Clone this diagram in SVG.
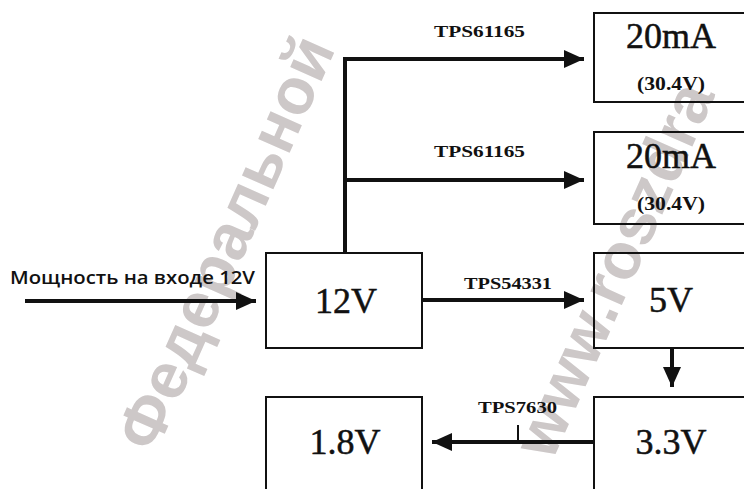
<svg xmlns="http://www.w3.org/2000/svg" width="744" height="489" viewBox="0 0 744 489">
<style>
.box{fill:none;stroke:#111;stroke-width:2}
.big{font-family:"Liberation Serif","Times New Roman",serif;font-size:36px;fill:#111;stroke:#111;stroke-width:0.5;text-anchor:middle}
.sub{font-family:"Liberation Serif","Times New Roman",serif;font-size:18px;font-weight:bold;fill:#111;text-anchor:middle}
.lbl{font-family:"Liberation Serif","Times New Roman",serif;font-size:17px;font-weight:bold;fill:#111}
.in{font-family:"Open Sans","Liberation Sans",sans-serif;font-size:18px;font-weight:600;fill:#111}
.wm{font-family:"Liberation Sans",Arial,sans-serif;font-size:65px;font-weight:bold;fill:#cdc8c8}
.c{stroke:#111;stroke-width:4;fill:none}
</style>
<defs>
<marker id="ah" markerUnits="userSpaceOnUse" markerWidth="20" markerHeight="18" refX="20" refY="9" orient="auto">
<path d="M0,0 L20,9 L0,18 z" fill="#111"/>
</marker>
</defs>
<rect width="744" height="489" fill="#fff"/>
<g id="watermark">
<text class="wm" transform="translate(155,455) rotate(-66)">Федеральной</text>
<text class="wm" transform="translate(552,462) rotate(-66)">www.roszdra</text>
</g>
<g id="connectors">
<line class="c" x1="345" y1="254" x2="345" y2="57"/>
<line class="c" x1="343" y1="59" x2="584" y2="59" marker-end="url(#ah)"/>
<line class="c" x1="345" y1="180" x2="584" y2="180" marker-end="url(#ah)"/>
<line class="c" x1="25" y1="301" x2="256" y2="301" marker-end="url(#ah)"/>
<line class="c" x1="422" y1="300" x2="584" y2="300" marker-end="url(#ah)"/>
<line class="c" x1="672" y1="348" x2="672" y2="387" marker-end="url(#ah)"/>
<line class="c" x1="594" y1="442" x2="432" y2="442" marker-end="url(#ah)"/>
<line stroke="#111" stroke-width="2" x1="518" y1="425" x2="518" y2="442"/>
<text class="lbl" x="434" y="37" textLength="91" lengthAdjust="spacingAndGlyphs">TPS61165</text>
<text class="lbl" x="434" y="157" textLength="91" lengthAdjust="spacingAndGlyphs">TPS61165</text>
<text class="lbl" x="464" y="289" textLength="88" lengthAdjust="spacingAndGlyphs">TPS54331</text>
<text class="lbl" x="478" y="413" textLength="79" lengthAdjust="spacingAndGlyphs">TPS7630</text>
<text class="in" x="10" y="284" textLength="245" lengthAdjust="spacingAndGlyphs">Мощность на входе 12V</text>
</g>
<g id="node-led1">
<rect class="box" x="594" y="13" width="160" height="89"/>
<text class="big" x="671" y="48">20mA</text>
<text class="sub" x="671" y="90" textLength="68" lengthAdjust="spacingAndGlyphs">(30.4V)</text>
</g>
<g id="node-led2">
<rect class="box" x="594" y="132" width="160" height="92"/>
<text class="big" x="671" y="168">20mA</text>
<text class="sub" x="671" y="210" textLength="68" lengthAdjust="spacingAndGlyphs">(30.4V)</text>
</g>
<g id="node-12v">
<rect class="box" x="266" y="253" width="156" height="95"/>
<text class="big" x="346" y="313">12V</text>
</g>
<g id="node-5v">
<rect class="box" x="594" y="253" width="160" height="95"/>
<text class="big" x="671" y="312">5V</text>
</g>
<g id="node-3v3">
<rect class="box" x="594" y="397" width="160" height="110"/>
<text class="big" x="671" y="454">3.3V</text>
</g>
<g id="node-1v8">
<rect class="box" x="266" y="397" width="156" height="110"/>
<text class="big" x="345" y="454">1.8V</text>
</g>
</svg>
